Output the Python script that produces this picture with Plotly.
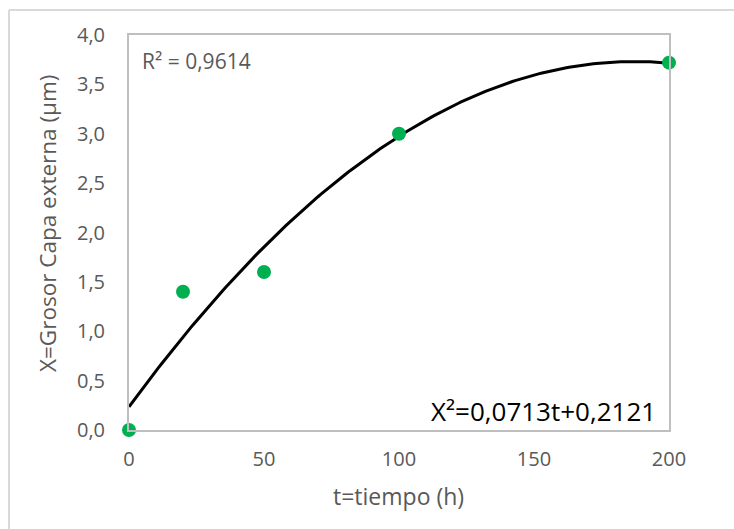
import numpy as np
import plotly.graph_objects as go

t_hours = [0, 20, 50, 100, 200]
thickness_um = [0.0, 1.4, 1.6, 3.0, 3.72]
y_ticks = [0, 0.5, 1.0, 1.5, 2.0, 2.5, 3.0, 3.5, 4.0]
x_ticks = [0, 50, 100, 150, 200]

coef = np.polyfit(t_hours, thickness_um, 2)
tt = np.linspace(0, 200, 201)
fit = np.polyval(coef, tt)

FONT = "Open Sans"
GRAY = "#595959"
L, R, T, B = 129, 65, 35, 99
PW, PH = 734 - L - R, 529 - T - B

def px(xp):
    return (xp - L) / PW

def py(yp):
    return (529 - B - yp) / PH

fig = go.Figure()
fig.add_trace(go.Scatter(x=tt, y=fit, mode="lines",
                         line=dict(color="black", width=3), hoverinfo="skip"))
fig.add_trace(go.Scatter(x=t_hours, y=thickness_um, mode="markers",
                         marker=dict(color="#00B050", size=14), cliponaxis=False))

fig.update_layout(
    width=734, height=529,
    margin=dict(l=L, r=R, t=T, b=B),
    paper_bgcolor="white", plot_bgcolor="white",
    showlegend=False,
    separators=",.",
    font=dict(family=FONT, color=GRAY, size=20),
    xaxis=dict(range=[0, 200], tickvals=x_ticks, showgrid=False, zeroline=False,
               showline=True, linecolor="#BFBFBF", linewidth=2, mirror=True,
               ticks="", ticklabelstandoff=10,
               tickfont=dict(size=20, color=GRAY, family=FONT)),
    yaxis=dict(range=[0, 4.0], tickvals=y_ticks, tickformat=".1f", showgrid=False,
               zeroline=False, showline=True, linecolor="#BFBFBF", linewidth=2,
               mirror=True, ticks="", ticklabelstandoff=18,
               tickfont=dict(size=20, color=GRAY, family=FONT)),
)

fig.add_shape(type="line", xref="paper", yref="paper", x0=px(9), x1=px(760),
              y0=py(10), y1=py(10), line=dict(color="#D9D9D9", width=2))
fig.add_shape(type="line", xref="paper", yref="paper", x0=px(9), x1=px(9),
              y0=py(560), y1=py(10), line=dict(color="#D9D9D9", width=2))

fig.add_annotation(xref="paper", yref="paper", x=px(398), y=py(496),
                   xanchor="center", yanchor="middle", showarrow=False,
                   text="t=tiempo (h)", font=dict(size=23, color=GRAY, family=FONT))
fig.add_annotation(xref="paper", yref="paper", x=px(47), y=py(224),
                   xanchor="center", yanchor="middle", showarrow=False, textangle=-90,
                   text="X=Grosor Capa externa (µm)",
                   font=dict(size=22.5, color=GRAY, family=FONT))
fig.add_annotation(xref="paper", yref="paper", x=px(140), y=py(61), xanchor="left",
                   yanchor="middle", showarrow=False, text="R² = 0,9614",
                   font=dict(size=21, color=GRAY, family=FONT))
fig.add_annotation(xref="paper", yref="paper", x=px(658), y=py(411), xanchor="right",
                   yanchor="middle", showarrow=False, text="X²=0,0713t+0,2121",
                   font=dict(size=26, color="black", family=FONT))

fig.write_html("out.html")
